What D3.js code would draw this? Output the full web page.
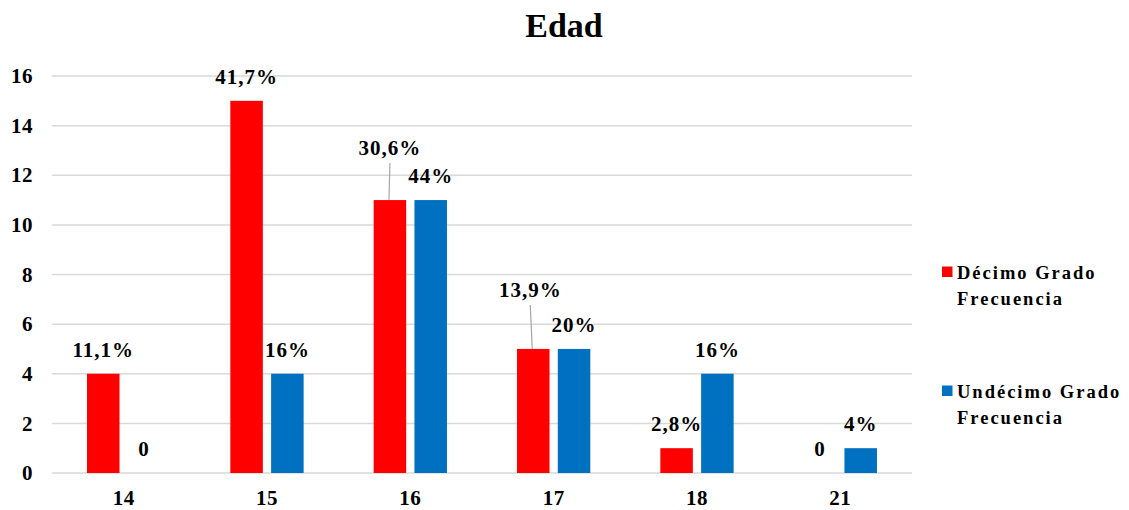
<!DOCTYPE html>
<html><head><meta charset="utf-8">
<script src="https://cdn.jsdelivr.net/npm/d3@7"></script>
<style>
html,body{margin:0;padding:0;background:#fff;}
svg{display:block;font-family:"Liberation Serif","Times New Roman",serif;font-weight:bold;}
</style></head>
<body>
<svg id="chart" width="1129" height="510"></svg>
<script>
// ---- data ----
const categories = ["14","15","16","17","18","21"];
const seriesNames = ["Décimo Grado Frecuencia","Undécimo Grado Frecuencia"];
const decimo = [4,15,11,5,1,0];
const undecimo = [0,4,11,5,4,1];
const decimoLabels = ["11,1%","41,7%","30,6%","13,9%","2,8%","0"];
const undecimoLabels = ["0","16%","44%","20%","16%","4%"];
const yTicks = [0,2,4,6,8,10,12,14,16];

// ---- layout ----
const colors = ["#ff0000","#0070c0"];
const plot = {left:52, right:912, top:76, bottom:473};
const liftedLabels = {"16":{dy:28,dx:0},"17":{dy:35,dx:-3}};

const svg = d3.select("#chart");
const x0 = d3.scaleBand().domain(categories).range([plot.left, plot.right]).padding(0);
const x1 = d3.scaleBand().domain([0,1]).range([35, 108.3]).paddingInner(0.203).paddingOuter(0);
const y = d3.scaleLinear().domain([0,16]).range([plot.bottom, plot.top]);

// title
svg.append("text").attr("x", 564).attr("y", 37).attr("text-anchor","middle")
  .style("font-size","34px").text("Edad");

// gridlines
svg.append("g").selectAll("line").data(yTicks).join("line")
  .attr("x1", plot.left).attr("x2", plot.right)
  .attr("y1", d=>y(d)).attr("y2", d=>y(d))
  .attr("stroke","#d9d9d9").attr("stroke-width",1.5);

// y axis labels
const yAxis = svg.append("g").attr("transform",`translate(${plot.left},0)`)
  .call(d3.axisLeft(y).tickValues(yTicks).tickSize(0).tickPadding(19));
yAxis.select(".domain").remove();
yAxis.selectAll("text").style("font-size","21px").style("font-family","Liberation Serif")
  .style("font-weight","bold").attr("fill","#000").style("letter-spacing","0.5px");

// x axis labels
const xAxis = svg.append("g").attr("transform",`translate(0,${plot.bottom})`)
  .call(d3.axisBottom(x0).tickSize(0).tickPadding(17));
xAxis.select(".domain").remove();
xAxis.selectAll("text").style("font-size","21px").style("font-family","Liberation Serif")
  .style("font-weight","bold").attr("fill","#000").style("letter-spacing","0.5px");

const series = [decimo, undecimo];
const labels = [decimoLabels, undecimoLabels];

series.forEach((vals, si) => {
  const g = svg.append("g");
  g.selectAll("rect").data(vals.map((v,i)=>({c:categories[i], v}))).join("rect")
    .attr("x", d=>x0(d.c)+x1(si)).attr("width", x1.bandwidth())
    .attr("y", d=>y(d.v)).attr("height", d=>y(0)-y(d.v))
    .attr("fill", colors[si]);
  vals.forEach((v,i)=>{
    const c = categories[i];
    const cx = x0(c)+x1(si)+x1.bandwidth()/2;
    const top = y(v);
    let lx = cx, ly = top-17;
    if (si===0 && liftedLabels[c]) {
      lx = cx + liftedLabels[c].dx;
      ly = top - 17 - liftedLabels[c].dy;
      svg.append("line").attr("x1", lx).attr("y1", ly+8).attr("x2", cx-1).attr("y2", top)
        .attr("stroke","#a6a6a6").attr("stroke-width",1.2);
    }
    svg.append("text").attr("x", lx).attr("y", ly).attr("text-anchor","middle")
      .style("font-size","21px").style("letter-spacing","1px").text(labels[si][i]);
  });
});

// legend
const legendY = [279, 398];
seriesNames.forEach((name, i) => {
  const words = name.split(" ");
  const line1 = words.slice(0,2).join(" "), line2 = words.slice(2).join(" ");
  svg.append("rect").attr("x", 942).attr("y", legendY[i]-12.5).attr("width",10.5).attr("height",10.5)
    .attr("fill", colors[i]);
  const t = svg.append("text").attr("x", 957).attr("y", legendY[i])
    .style("font-size","18.5px").style("letter-spacing","2px");
  t.append("tspan").attr("x",957).text(line1);
  t.append("tspan").attr("x",957).attr("dy",26).text(line2);
});
</script>
</body></html>
